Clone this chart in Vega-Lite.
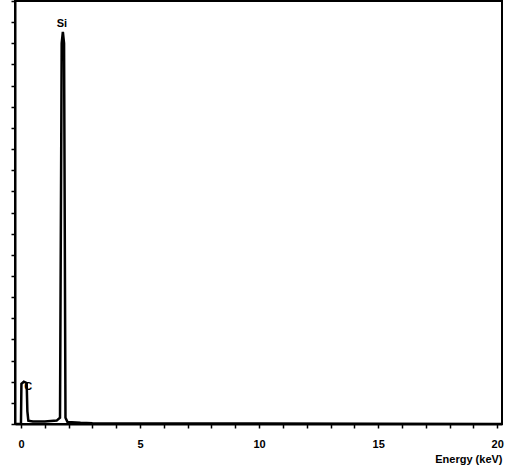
{
  "$schema": "https://vega.github.io/schema/vega-lite/v6.json",
  "autosize": "none",
  "width": 487,
  "height": 423,
  "padding": {"left": 15, "top": 1, "right": 8, "bottom": 43},
  "background": "white",
  "config": {
    "view": {"stroke": "black", "strokeWidth": 2},
    "font": "Liberation Sans"
  },
  "datasets": {
    "spectrum": [
      {"energy": -0.25, "counts": 0},
      {"energy": 0.0, "counts": 0},
      {"energy": 0.02, "counts": 95},
      {"energy": 0.12, "counts": 100},
      {"energy": 0.24, "counts": 97},
      {"energy": 0.27, "counts": 30},
      {"energy": 0.31, "counts": 8},
      {"energy": 0.5, "counts": 6},
      {"energy": 1.0, "counts": 6},
      {"energy": 1.5, "counts": 8},
      {"energy": 1.64, "counts": 15},
      {"energy": 1.71, "counts": 900},
      {"energy": 1.76, "counts": 927},
      {"energy": 1.81, "counts": 900},
      {"energy": 1.87, "counts": 15},
      {"energy": 1.95, "counts": 5},
      {"energy": 2.5, "counts": 3},
      {"energy": 3.0, "counts": 2},
      {"energy": 5.0, "counts": 1},
      {"energy": 10.0, "counts": 1},
      {"energy": 15.0, "counts": 0.5},
      {"energy": 20.0, "counts": 0},
      {"energy": 20.2, "counts": 0}
    ],
    "labels": [
      {"label": "Si", "energy": 1.72, "counts": 945},
      {"label": "C", "energy": 0.3, "counts": 88}
    ]
  },
  "layer": [
    {
      "data": {"name": "spectrum"},
      "mark": {"type": "line", "color": "black", "strokeWidth": 2.5, "clip": true},
      "encoding": {
        "x": {
          "field": "energy", "type": "quantitative",
          "scale": {"domain": [-0.25, 20.2], "nice": false, "zero": false},
          "axis": {
            "title": "Energy (keV)",
            "tickCount": 20,
            "labelExpr": "datum.value % 5 === 0 ? datum.label : ''",
            "labelOverlap": false,
            "labelFlush": false,
            "labelBound": false,
            "grid": false,
            "domainColor": "black", "domainWidth": 2,
            "tickColor": "black", "tickSize": 4, "tickWidth": 1.5,
            "labelFont": "Liberation Sans", "labelFontWeight": "bold", "labelFontSize": 11, "labelColor": "black",
            "labelPadding": 10,
            "titleFont": "Liberation Sans", "titleFontWeight": "bold", "titleFontSize": 11, "titleColor": "black",
            "titleAnchor": "end", "titlePadding": 4
          }
        },
        "y": {
          "field": "counts", "type": "quantitative",
          "scale": {"domain": [0, 1000], "nice": false},
          "axis": {
            "title": null,
            "labels": false,
            "tickCount": 20,
            "grid": false,
            "domainColor": "black", "domainWidth": 2,
            "tickColor": "black", "tickSize": 4, "tickWidth": 1.5
          }
        }
      }
    },
    {
      "data": {"name": "labels"},
      "mark": {"type": "text", "font": "Liberation Sans", "fontWeight": "bold", "fontSize": 11, "color": "black", "baseline": "middle", "align": "center"},
      "encoding": {
        "x": {"field": "energy", "type": "quantitative"},
        "y": {"field": "counts", "type": "quantitative"},
        "text": {"field": "label"}
      }
    }
  ]
}
